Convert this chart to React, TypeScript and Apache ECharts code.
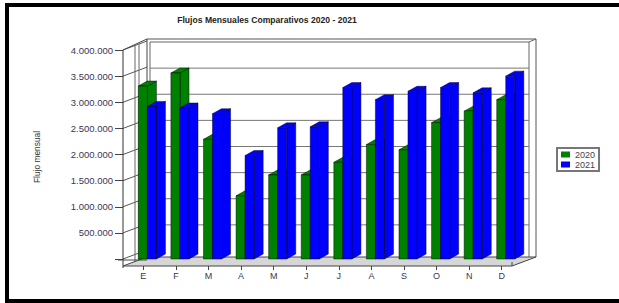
import React, { useEffect, useRef } from "react";
import * as echarts from "echarts";

const months = ["E", "F", "M", "A", "M", "J", "J", "A", "S", "O", "N", "D"];
const flujo2020 = [3310000, 3560000, 2290000, 1210000, 1610000, 1610000, 1850000, 2190000, 2090000, 2610000, 2830000, 3050000];
const flujo2021 = [2920000, 2890000, 2780000, 1980000, 2510000, 2530000, 3280000, 3050000, 3210000, 3280000, 3180000, 3500000];
const yTicks = [0, 500000, 1000000, 1500000, 2000000, 2500000, 3000000, 3500000, 4000000];
const seriesNames = ["2020", "2021"];
const titleText = "Flujos Mensuales Comparativos 2020 - 2021";
const yAxisTitle = "Flujo mensual";

const fmt = (v: number) =>
  v === 0 ? "" : String(v).replace(/\B(?=(\d{3})+(?!\d))/g, ".");

const DX = 24;
const DY = -9;
const BDX = 9;
const BDY = -5;

function barRenderer(offsetFrac: number) {
  return (params: any, api: any) => {
    const idx = api.value(0);
    const val = api.value(1);
    const base = api.coord([idx, 0]);
    const top = api.coord([idx, val]);
    const bw = api.size([1, 0])[0];
    const x0 = base[0] + offsetFrac * bw;
    const w = 0.28 * bw;
    const y0 = base[1];
    const y1 = top[1];
    const color = api.visual("color");
    const stroke = { stroke: "rgba(0,0,0,0.75)", lineWidth: 0.6 };
    return {
      type: "group",
      children: [
        {
          type: "polygon",
          shape: { points: [[x0 + w, y1], [x0 + w + BDX, y1 + BDY], [x0 + w + BDX, y0 + BDY], [x0 + w, y0]] },
          style: { fill: color, ...stroke },
        },
        {
          type: "polygon",
          shape: { points: [[x0, y1], [x0 + BDX, y1 + BDY], [x0 + w + BDX, y1 + BDY], [x0 + w, y1]] },
          style: { fill: color, ...stroke },
        },
        {
          type: "rect",
          shape: { x: x0, y: y1, width: w, height: y0 - y1 },
          style: { fill: color, ...stroke },
        },
      ],
    };
  };
}

function frameRenderer(params: any, api: any) {
  const cs = params.coordSys;
  const fx0 = cs.x - 4;
  const fx1 = cs.x + cs.width - 6;
  const yTop = api.coord([0, yTicks[yTicks.length - 1]])[1];
  const yZero = api.coord([0, 0])[1];
  const yFloorFront = yZero + 7;
  const bx0 = fx0 + DX;
  const bx1 = fx1 + DX;
  const byTop = yTop + DY;
  const byFloor = yFloorFront + DY;
  const ln = (x1: number, y1: number, x2: number, y2: number, c = "#444", w = 1) => ({
    type: "line",
    shape: { x1, y1, x2, y2 },
    style: { stroke: c, lineWidth: w },
  });
  const children: any[] = [];
  // back wall outer/inner frame
  children.push(ln(bx0, byTop - 2, bx1, byTop - 2, "#555"));
  children.push(ln(bx0 + 3, byTop + 1, bx1 - 7, byTop + 1, "#666"));
  children.push(ln(bx1, byTop - 2, bx1, byFloor, "#555"));
  children.push(ln(bx1 - 7, byTop + 1, bx1 - 7, byFloor + 3, "#666"));
  children.push(ln(bx1 - 7, byTop + 1, bx1, byTop - 2, "#666"));
  children.push(ln(bx0 + 3, byTop + 1, bx0 + 3, byFloor, "#666"));
  // grid lines on back wall and left wall
  yTicks.forEach((v) => {
    const y = api.coord([0, v])[1];
    if (v > 0 && v < yTicks[yTicks.length - 1]) {
      children.push(ln(bx0 + 3, y + DY + 1, bx1 - 7, y + DY + 1, "#777"));
    }
    children.push(ln(fx0, y, bx0, y + DY, "#555"));
  });
  // left wall
  children.push(ln(fx0, yTop, fx0, yFloorFront + 2, "#333"));
  children.push(ln(bx0, byTop - 2, bx0, byFloor, "#444"));
  children.push(ln(fx0 + 12, yTop - 4, fx0 + 12, yFloorFront - 4, "#666"));
  children.push(ln(fx0 + 16, yTop - 6, fx0 + 16, yFloorFront - 6, "#666"));
  children.push(ln(fx0, yTop, bx0, byTop - 2, "#444"));
  // floor
  children.push({
    type: "polygon",
    shape: { points: [[fx0, yFloorFront], [fx1, yFloorFront], [bx1, byFloor], [bx0, byFloor]] },
    style: { fill: "#d6d6d6", stroke: "#444", lineWidth: 1 },
  });
  children.push(ln(fx0 - 5, yZero + 1, bx0, yZero + 1, "#444"));
  children.push(ln(fx1, yFloorFront, fx1, yFloorFront - 4, "#444"));
  return { type: "group", children };
}

export default function App() {
  const ref = useRef<HTMLDivElement>(null);
  useEffect(() => {
    if (!ref.current) return;
    const chart = echarts.init(ref.current, null, { renderer: "svg" });
    chart.setOption({
      animation: false,
      backgroundColor: "#ffffff",
      textStyle: { fontFamily: "Liberation Sans, Arial, sans-serif" },
      grid: { left: 127, top: 50, width: 391, height: 209, containLabel: false },
      legend: {
        data: seriesNames,
        orient: "vertical",
        left: 557,
        top: 148,
        itemWidth: 9,
        itemHeight: 6,
        itemGap: 1,
        icon: "rect",
        padding: [2, 4, 2, 4],
        borderColor: "#777",
        borderWidth: 2,
        textStyle: { fontSize: 9, color: "#444", fontFamily: "Liberation Sans, Arial, sans-serif" },
      },
      xAxis: {
        type: "category",
        data: months,
        axisLine: { show: false },
        axisTick: { show: true, alignWithLabel: true, length: 11, lineStyle: { color: "#444" } },
        axisLabel: { margin: 12, fontSize: 9, color: "#3d3552", interval: 0 },
        splitLine: { show: false },
      },
      yAxis: {
        type: "value",
        min: yTicks[0],
        max: yTicks[yTicks.length - 1],
        interval: yTicks[1] - yTicks[0],
        offset: 4,
        axisLine: { show: false },
        axisTick: { show: true, length: 8, lineStyle: { color: "#444" } },
        axisLabel: { margin: 10, fontSize: 9.5, color: "#3d3552", formatter: fmt },
        splitLine: { show: false },
      },
      graphic: [
        {
          type: "rect",
          shape: { x: 7, y: 5, width: 640, height: 296 },
          style: { fill: "none", stroke: "#000", lineWidth: 4 },
          z: 100,
        },
        {
          type: "text",
          x: 267,
          y: 20,
          style: {
            text: titleText,
            fontSize: 8.6,
            fontWeight: "bold",
            fontFamily: "Liberation Sans, Arial, sans-serif",
            fill: "#222",
            textAlign: "center",
            textVerticalAlign: "middle",
          },
        },
        {
          type: "text",
          x: 37,
          y: 157,
          rotation: Math.PI / 2,
          style: {
            text: yAxisTitle,
            fontSize: 8.4,
            fontFamily: "Liberation Sans, Arial, sans-serif",
            fill: "#333",
            textAlign: "center",
            textVerticalAlign: "middle",
          },
        },
      ],
      series: [
        {
          type: "custom",
          name: "frame",
          silent: true,
          z: 1,
          renderItem: frameRenderer,
          data: [[0, 0]],
          clip: false,
        },
        {
          type: "custom",
          name: seriesNames[0],
          z: 3,
          itemStyle: { color: "#008000" },
          renderItem: barRenderer(-0.153),
          data: flujo2020.map((v, i) => [i, v]),
        },
        {
          type: "custom",
          name: seriesNames[1],
          z: 4,
          itemStyle: { color: "#0000ff" },
          renderItem: barRenderer(0.123),
          data: flujo2021.map((v, i) => [i, v]),
        },
      ],
    });
    return () => chart.dispose();
  }, []);
  return (
    <div
      ref={ref}
      style={{ position: "absolute", left: 0, top: 0, width: 619, height: 303 }}
    />
  );
}
